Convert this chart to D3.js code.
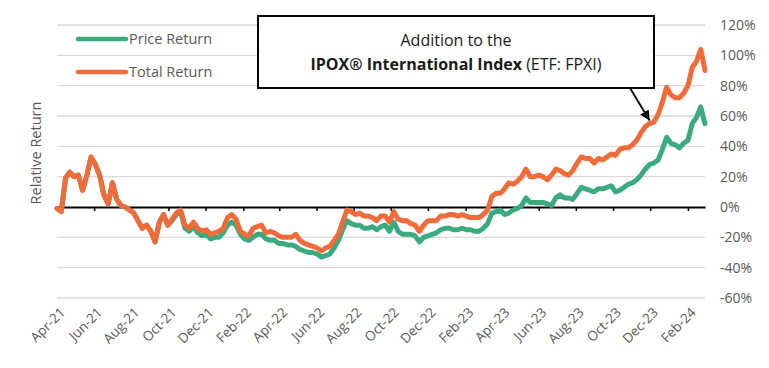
<!DOCTYPE html>
<html>
<head>
<meta charset="utf-8">
<script src="https://cdn.jsdelivr.net/npm/d3@7"></script>
<style>
  body { margin: 0; background: #fff; }
  svg text { font-family: "Open Sans", sans-serif; }
</style>
</head>
<body>
<svg id="chart" width="769" height="368"></svg>
<script>
// weekly closes, Apr-21 .. Feb-24
var dates = [
  "2021-04-01","2021-04-08","2021-04-15","2021-04-22","2021-04-29","2021-05-06","2021-05-13","2021-05-20","2021-05-27","2021-06-03",
  "2021-06-10","2021-06-17","2021-06-24","2021-07-01","2021-07-08","2021-07-15","2021-07-22","2021-07-29","2021-08-05","2021-08-12",
  "2021-08-19","2021-08-26","2021-09-02","2021-09-09","2021-09-16","2021-09-23","2021-09-30","2021-10-07","2021-10-14","2021-10-21",
  "2021-10-28","2021-11-04","2021-11-11","2021-11-18","2021-11-25","2021-12-02","2021-12-09","2021-12-16","2021-12-23","2021-12-30",
  "2022-01-06","2022-01-13","2022-01-20","2022-01-27","2022-02-03","2022-02-10","2022-02-17","2022-02-24","2022-03-03","2022-03-10",
  "2022-03-17","2022-03-24","2022-03-31","2022-04-07","2022-04-14","2022-04-21","2022-04-28","2022-05-05","2022-05-12","2022-05-19",
  "2022-05-26","2022-06-02","2022-06-09","2022-06-16","2022-06-23","2022-06-30","2022-07-07","2022-07-14","2022-07-21","2022-07-28",
  "2022-08-04","2022-08-11","2022-08-18","2022-08-25","2022-09-01","2022-09-08","2022-09-15","2022-09-22","2022-09-29","2022-10-06",
  "2022-10-13","2022-10-20","2022-10-27","2022-11-03","2022-11-10","2022-11-17","2022-11-24","2022-12-01","2022-12-08","2022-12-15",
  "2022-12-22","2022-12-29","2023-01-05","2023-01-12","2023-01-19","2023-01-26","2023-02-02","2023-02-09","2023-02-16","2023-02-23",
  "2023-03-02","2023-03-09","2023-03-16","2023-03-23","2023-03-30","2023-04-06","2023-04-13","2023-04-20","2023-04-27","2023-05-04",
  "2023-05-11","2023-05-18","2023-05-25","2023-06-01","2023-06-08","2023-06-15","2023-06-22","2023-06-29","2023-07-06","2023-07-13",
  "2023-07-20","2023-07-27","2023-08-03","2023-08-10","2023-08-17","2023-08-24","2023-08-31","2023-09-07","2023-09-14","2023-09-21",
  "2023-09-28","2023-10-05","2023-10-12","2023-10-19","2023-10-26","2023-11-02","2023-11-09","2023-11-16","2023-11-23","2023-11-30",
  "2023-12-07","2023-12-14","2023-12-21","2023-12-28","2024-01-04","2024-01-11","2024-01-18","2024-01-25","2024-02-01","2024-02-08",
  "2024-02-15","2024-02-22","2024-02-29"
];

var priceReturn = [
  -1, -3, 19, 23, 20, 21, 11, 21, 33, 28,
  21, 8, 2, 16, 5, 1, 0, -2, -4, -9,
  -14, -12, -16, -23, -10, -5, -12, -9, -5, -3,
  -14, -16, -13, -17, -19, -18, -21, -20, -20, -17,
  -12, -10, -12, -18, -21, -22, -20, -18, -18, -21,
  -22, -22, -24, -24, -25, -25, -26, -28, -29, -30,
  -30, -31, -33, -32, -31, -27, -22, -15, -9, -11,
  -12, -12, -14, -14, -13, -15, -13, -12, -16, -10,
  -16, -18, -18, -18, -19, -23, -20, -19, -18, -17,
  -15, -14, -14, -15, -15, -14, -15, -15, -16, -16,
  -14, -11, -4, -3, -2, -5, -4, -2, -1, 1,
  6, 3, 3, 3, 3, 2, 1, 6, 8, 6,
  6, 5, 9, 13, 12, 11, 10, 12, 12, 13,
  14, 10, 11, 13, 15, 16, 18, 21, 25, 28,
  29, 31, 38, 46, 42, 41, 39, 42, 44, 55,
  59, 66, 55
];

var totalReturn = [
  -1, -3, 19, 23, 20, 21, 11, 21, 33, 28,
  21, 8, 2, 16, 5, 1, 0, -2, -4, -9,
  -14, -12, -16, -23, -10, -5, -12, -8, -4, -2,
  -12, -14, -10, -14, -16, -15, -18, -17, -16, -14,
  -7, -5, -8, -16, -18, -19, -14, -13, -12, -17,
  -16, -17, -19, -20, -20, -20, -18, -22, -24, -25,
  -26, -27, -29, -27, -26, -22, -18, -10, -2, -3,
  -5, -4, -6, -6, -7, -9, -6, -6, -10, -3,
  -8, -9, -9, -11, -12, -16, -12, -9, -9, -9,
  -6, -6, -5, -5, -6, -5, -6, -7, -7, -7,
  -5, -2, 7, 9, 9, 12, 16, 15, 17, 20,
  25, 20, 20, 21, 20, 18, 21, 25, 24, 22,
  21, 24, 29, 33, 32, 32, 29, 32, 31, 33,
  35, 34, 38, 39, 39, 41, 44, 49, 53, 55,
  56, 61, 69, 79, 74, 72, 72, 75, 80, 92,
  96, 104, 90
];

var seriesNames = ["Price Return", "Total Return"];
var seriesColors = ["#3BAA7F", "#F26B3A"];
var yTicks = [-60, -40, -20, 0, 20, 40, 60, 80, 100, 120];
var xTickDates = [
  "2021-04-01","2021-06-01","2021-08-01","2021-10-01","2021-12-01","2022-02-01",
  "2022-04-01","2022-06-01","2022-08-01","2022-10-01","2022-12-01","2023-02-01",
  "2023-04-01","2023-06-01","2023-08-01","2023-10-01","2023-12-01","2024-02-01"
];
var annotationDate = "2023-11-30";

(function () {
  var parse = d3.timeParse("%Y-%m-%d");
  var svg = d3.select("#chart");

  var plot = { left: 57, right: 705, top: 25, bottom: 298 };

  var x = d3.scaleTime()
    .domain([parse(dates[0]), parse(dates[dates.length - 1])])
    .range([plot.left, plot.right]);
  var y = d3.scaleLinear().domain([-60, 120]).range([plot.bottom, plot.top]);

  // gridlines
  svg.append("g").selectAll("line")
    .data(yTicks.filter(function (d) { return d !== 0; }))
    .enter().append("line")
    .attr("x1", plot.left).attr("x2", plot.right)
    .attr("y1", function (d) { return y(d); })
    .attr("y2", function (d) { return y(d); })
    .attr("stroke", "#d9d9d9").attr("stroke-width", 1.3);

  // right-hand value labels
  svg.append("g").selectAll("text")
    .data(yTicks)
    .enter().append("text")
    .attr("x", 720)
    .attr("y", function (d) { return y(d); })
    .attr("dy", "0.35em")
    .attr("fill", "#595959")
    .style("font-size", "14px")
    .text(function (d) { return d + "%"; });

  svg.append("text")
    .attr("transform", "translate(41,153) rotate(-90)")
    .attr("text-anchor", "middle")
    .attr("fill", "#595959")
    .style("font-size", "14.5px")
    .text("Relative Return");

  // zero axis with small ticks
  var zeroAxis = d3.axisBottom(x)
    .tickValues(xTickDates.map(parse))
    .tickFormat("")
    .tickSizeInner(4)
    .tickSizeOuter(0);
  var gz = svg.append("g")
    .attr("transform", "translate(0," + y(0) + ")")
    .call(zeroAxis);
  gz.select(".domain").attr("stroke", "#000").attr("stroke-width", 2);
  gz.selectAll(".tick line").attr("stroke", "#000").attr("stroke-width", 1.5);

  // month labels at the bottom
  var labelAxis = d3.axisBottom(x)
    .tickValues(xTickDates.map(parse))
    .tickFormat(d3.timeFormat("%b-%y"))
    .tickSize(0);
  var gl = svg.append("g")
    .attr("transform", "translate(0," + plot.bottom + ")")
    .call(labelAxis);
  gl.select(".domain").remove();
  gl.selectAll("text")
    .attr("fill", "#595959")
    .style("font-size", "13.5px")
    .style("font-family", "Open Sans, sans-serif")
    .attr("text-anchor", "end")
    .attr("transform", "translate(5,12) rotate(-45)")
    .attr("x", 0).attr("y", 0).attr("dy", "0.35em");

  // lines
  var series = [priceReturn, totalReturn];
  var line = d3.line()
    .x(function (d, i) { return x(parse(dates[i])); })
    .y(function (d) { return y(d); });

  svg.append("g").selectAll("path")
    .data(series)
    .enter().append("path")
    .attr("d", line)
    .attr("fill", "none")
    .attr("stroke", function (d, i) { return seriesColors[i]; })
    .attr("stroke-width", 5)
    .attr("stroke-linejoin", "round")
    .attr("stroke-linecap", "round");

  // legend
  var legend = svg.append("g").selectAll("g")
    .data(seriesNames)
    .enter().append("g")
    .attr("transform", function (d, i) { return "translate(78," + (39 + i * 33) + ")"; });
  legend.append("line")
    .attr("x1", 0).attr("x2", 48)
    .attr("stroke", function (d, i) { return seriesColors[i]; })
    .attr("stroke-width", 4.5)
    .attr("stroke-linecap", "round");
  legend.append("text")
    .attr("x", 51).attr("dy", "0.35em")
    .attr("fill", "#595959")
    .style("font-size", "14.5px")
    .text(function (d) { return d; });

  // annotation
  svg.append("defs").append("marker")
    .attr("id", "arrow")
    .attr("viewBox", "0 0 10 10")
    .attr("refX", 10).attr("refY", 5)
    .attr("markerWidth", 10).attr("markerHeight", 10)
    .attr("markerUnits", "userSpaceOnUse")
    .attr("orient", "auto")
    .append("path")
    .attr("d", "M0,0 L10,5 L0,10 Z")
    .attr("fill", "#000");

  var ai = dates.indexOf(annotationDate);
  var tipX = x(parse(annotationDate)), tipY = y(totalReturn[ai]) - 3;

  svg.append("line")
    .attr("x1", 630).attr("y1", 88)
    .attr("x2", tipX).attr("y2", tipY)
    .attr("stroke", "#000").attr("stroke-width", 1.8)
    .attr("marker-end", "url(#arrow)");

  svg.append("rect")
    .attr("x", 258).attr("y", 16)
    .attr("width", 396).attr("height", 72)
    .attr("fill", "#fff")
    .attr("stroke", "#000").attr("stroke-width", 2);

  svg.append("text")
    .attr("x", 456).attr("y", 46)
    .attr("text-anchor", "middle")
    .attr("fill", "#1a1a1a")
    .style("font-size", "16px")
    .text("Addition to the");

  var t2 = svg.append("text")
    .attr("x", 456).attr("y", 70)
    .attr("text-anchor", "middle")
    .attr("fill", "#1a1a1a")
    .style("font-size", "16px");
  t2.append("tspan").style("font-weight", "bold").text("IPOX\u00AE International Index");
  t2.append("tspan").text(" (ETF: FPXI)");
})();
</script>
</body>
</html>
